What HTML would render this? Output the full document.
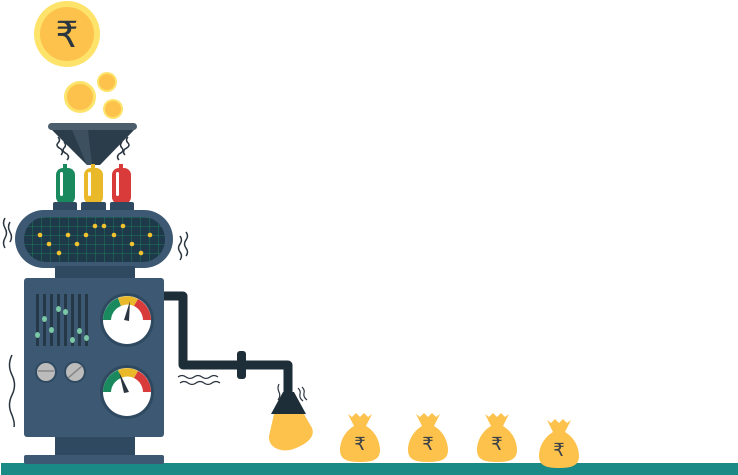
<!DOCTYPE html>
<html><head><style>html,body{margin:0;padding:0;background:#fff;width:738px;height:475px;overflow:hidden}</style></head>
<body>
<svg width="738" height="475" viewBox="0 0 738 475" xmlns="http://www.w3.org/2000/svg">
<defs>
<pattern id="g" x="24" y="218" width="9" height="9" patternUnits="userSpaceOnUse">
<path d="M9 0V9M0 9H9" stroke="#1f8a5e" stroke-width="0.8" fill="none"/>
</pattern>
<g id="bag">
<path d="M-12 -20 L-8 -17 L-4 -21 L0 -17 L4 -21 L8 -17 L12 -20 L6 -8 C16 -2 20 8 20 16 C20 26 12 28 0 28 C-12 28 -20 26 -20 16 C-20 8 -16 -2 -6 -8 Z" fill="#fcc24c"/>
<text x="0" y="16" font-family="Liberation Sans, DejaVu Sans, sans-serif" font-size="18" fill="#3a4148" text-anchor="middle">₹</text>
</g>
</defs>
<!-- ground -->
<rect x="1" y="463" width="737" height="12" fill="#1a8a87"/>
<!-- coins -->
<circle cx="67" cy="34" r="33" fill="#fde36a"/>
<circle cx="67" cy="34" r="27" fill="#fcc24c"/>
<text x="67" y="47" font-family="Liberation Sans, DejaVu Sans, sans-serif" font-size="36" fill="#2b3540" text-anchor="middle">₹</text>
<circle cx="80" cy="97" r="16" fill="#fde36a"/><circle cx="80" cy="97" r="13" fill="#fcc24c"/>
<circle cx="107" cy="82" r="10" fill="#fde36a"/><circle cx="107" cy="82" r="8" fill="#fcc24c"/>
<circle cx="113" cy="109" r="10" fill="#fde36a"/><circle cx="113" cy="109" r="8" fill="#fcc24c"/>
<!-- funnel -->
<path d="M52 130 L134 130 L100 165 L87 165 Z" fill="#2b3d4b"/>
<path d="M72 130 L88 130 L92 165 L87 165 Z" fill="#3d5060"/>
<rect x="48" y="123" width="89" height="7" rx="3.5" fill="#4c5d6b"/>
<g stroke="#2b3540" stroke-width="1.5" fill="none">
<path d="M58 137 q3 3 0 6 q-3 3 3 6 q3 3 0 6"/><path d="M64 142 q3 3 0 6 q-3 3 3 6 q3 3 0 6"/>
<path d="M128 137 q-3 3 0 6 q3 3 -3 6 q-3 3 0 6"/><path d="M122 142 q-3 3 0 6 q3 3 -3 6 q-3 3 0 6"/>
</g>
<!-- tubes -->
<rect x="56" y="168" width="19" height="36" rx="7" fill="#1a8a5e"/><rect x="63" y="164" width="4" height="5" fill="#1a8a5e"/><rect x="60" y="172" width="3" height="24" rx="1.5" fill="#fff"/>
<rect x="84" y="168" width="19" height="36" rx="7" fill="#e9b92a"/><rect x="91" y="164" width="4" height="5" fill="#e9b92a"/><rect x="88" y="172" width="3" height="24" rx="1.5" fill="#fff"/>
<rect x="112" y="168" width="19" height="36" rx="7" fill="#d93a3a"/><rect x="119" y="164" width="4" height="5" fill="#d93a3a"/><rect x="116" y="172" width="3" height="24" rx="1.5" fill="#fff"/>
<rect x="53" y="202" width="24" height="10" rx="2" fill="#2f4a60"/>
<rect x="81" y="202" width="25" height="10" rx="2" fill="#2f4a60"/>
<rect x="110" y="202" width="24" height="10" rx="2" fill="#2f4a60"/>
<!-- capsule -->
<rect x="15" y="210" width="158" height="58" rx="29" fill="#3c5872"/>
<rect x="24" y="217" width="141" height="45" rx="22" fill="#1e3a4a"/>
<rect x="24" y="217" width="141" height="45" rx="22" fill="url(#g)"/>
<g fill="#f2c230">
<circle cx="40" cy="235" r="2.3"/><circle cx="49" cy="244" r="2.3"/><circle cx="59" cy="253" r="2.3"/><circle cx="68" cy="235" r="2.3"/><circle cx="77" cy="244" r="2.3"/><circle cx="86" cy="235" r="2.3"/><circle cx="95" cy="226" r="2.3"/><circle cx="104" cy="226" r="2.3"/><circle cx="114" cy="235" r="2.3"/><circle cx="123" cy="226" r="2.3"/><circle cx="132" cy="244" r="2.3"/><circle cx="141" cy="253" r="2.3"/><circle cx="150" cy="235" r="2.3"/>
</g>
<g stroke="#2b3540" stroke-width="1.5" fill="none">
<path d="M5 218 q-3 5 0 10 q3 5 0 10 q-3 5 0 10"/><path d="M10 222 q-3 5 0 10 q3 5 0 10"/>
<path d="M180 236 q3 4 0 8 q-3 4 0 8 q3 4 0 8"/><path d="M186 232 q3 4 0 8 q-3 4 0 8 q3 4 0 8"/>
<path d="M12 355 q-5 10 0 20 q5 10 0 20 q-5 10 0 20 q3 8 2 12"/>
</g>
<!-- body -->
<rect x="55" y="266" width="80" height="14" fill="#2f4a60"/>
<rect x="24" y="278" width="140" height="159" rx="3" fill="#3c5872"/>
<rect x="55" y="437" width="80" height="19" fill="#2f4a60"/>
<rect x="24" y="455" width="140" height="9" rx="2" fill="#3c5872"/>
<!-- sliders -->
<g fill="#243848">
<rect x="36" y="294" width="3" height="52"/><rect x="43" y="294" width="3" height="52"/><rect x="50" y="294" width="3" height="52"/><rect x="57" y="294" width="3" height="52"/><rect x="64" y="294" width="3" height="52"/><rect x="71" y="294" width="3" height="52"/><rect x="78" y="294" width="3" height="52"/><rect x="85" y="294" width="3" height="52"/>
</g>
<g fill="#7cc8a6">
<ellipse cx="37.5" cy="335" rx="2.5" ry="3"/><ellipse cx="44.5" cy="319" rx="2.5" ry="3"/><ellipse cx="51.5" cy="330" rx="2.5" ry="3"/><ellipse cx="58.5" cy="309" rx="2.5" ry="3"/><ellipse cx="65.5" cy="312" rx="2.5" ry="3"/><ellipse cx="72.5" cy="340" rx="2.5" ry="3"/><ellipse cx="79.5" cy="331" rx="2.5" ry="3"/><ellipse cx="86.5" cy="338" rx="2.5" ry="3"/>
</g>
<!-- knobs -->
<circle cx="46" cy="372" r="11" fill="#2f4a60"/><circle cx="46" cy="372" r="9" fill="#bcbcbc"/><line x1="38" y1="371" x2="54" y2="371" stroke="#888" stroke-width="1.5"/>
<circle cx="75" cy="372" r="11" fill="#2f4a60"/><circle cx="75" cy="372" r="9" fill="#bcbcbc"/><line x1="68" y1="378" x2="82" y2="366" stroke="#888" stroke-width="1.5"/>
<!-- gauges -->
<g>
<circle cx="127" cy="320" r="27" fill="#2f4a60"/><circle cx="127" cy="320" r="24" fill="#fff"/>
<path d="M103 320 A24 24 0 0 1 118 298 L121 306 A16 16 0 0 0 111 320 Z" fill="#1a8a5e"/>
<path d="M118 298 A24 24 0 0 1 138 299 L134 306 A16 16 0 0 0 121 306 Z" fill="#e9b92a"/>
<path d="M138 299 A24 24 0 0 1 151 320 L143 320 A16 16 0 0 0 134 306 Z" fill="#d93a3a"/>
<path d="M124 320 L130 301 L129 321 Z" fill="#2b3540"/>
</g>
<g>
<circle cx="127" cy="392" r="27" fill="#2f4a60"/><circle cx="127" cy="392" r="24" fill="#fff"/>
<path d="M103 392 A24 24 0 0 1 118 370 L121 378 A16 16 0 0 0 111 392 Z" fill="#1a8a5e"/>
<path d="M118 370 A24 24 0 0 1 138 371 L134 378 A16 16 0 0 0 121 378 Z" fill="#e9b92a"/>
<path d="M138 371 A24 24 0 0 1 151 392 L143 392 A16 16 0 0 0 134 378 Z" fill="#d93a3a"/>
<path d="M124 393 L119 372 L129 392 Z" fill="#2b3540"/>
</g>
<!-- pipe -->
<path d="M164 296 H183 V365 H288 V392" stroke="#1e2e38" stroke-width="9" fill="none" stroke-linejoin="round"/>
<rect x="237" y="351" width="9" height="28" rx="3" fill="#1e2e38"/>
<path d="M178 377 q4 -3 8 0 q4 3 8 0 q4 -3 8 0 q4 3 8 0 q4 -3 8 0 M180 383 q4 -3 8 0 q4 3 8 0 q4 -3 8 0 q4 3 8 0 q4 -3 8 0" stroke="#2b3540" stroke-width="1.3" fill="none"/>
<!-- bulb -->
<path d="M283 392 H294 L306 414 H271 Z" fill="#1e2e38"/>
<path d="M274 414 H304 L312 428 C316 438 304 446 290 450 C278 452 268 446 269 436 Z" fill="#fcc24c"/>
<g stroke="#2b3540" stroke-width="1.2" fill="none">
<path d="M279 384 q-2 4 0 8 q2 4 -1 8"/><path d="M298 388 q3 3 2 6 q-1 4 3 7 M302 387 q3 3 2 6 q-1 4 3 7"/>
</g>
<!-- bags -->
<use href="#bag" x="360" y="434"/>
<use href="#bag" x="428" y="434"/>
<use href="#bag" x="497" y="434"/>
<use href="#bag" x="559" y="440"/>
</svg>
</body></html>
